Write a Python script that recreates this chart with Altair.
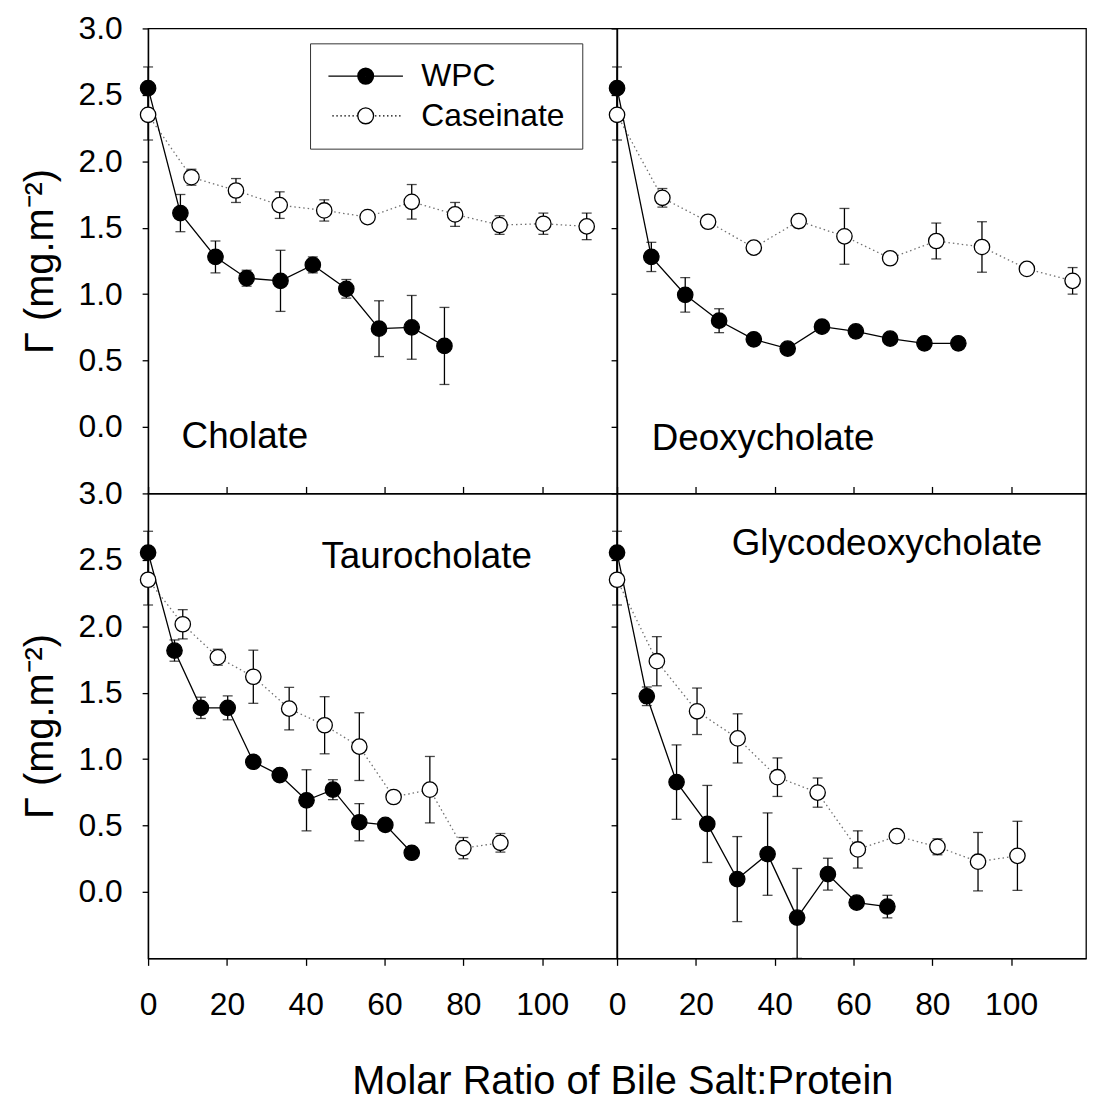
import altair as alt
import pandas as pd

FONT = "Liberation Sans"

series_names = ["WPC", "Caseinate"]
panel_names = ["Cholate", "Deoxycholate", "Taurocholate", "Glycodeoxycholate"]
x_ticks = [0, 20, 40, 60, 80, 100]
y_ticks = [0.0, 0.5, 1.0, 1.5, 2.0, 2.5, 3.0]

# Cholate
chol_wpc_x = [0, 8.2, 17.1, 25.0, 33.6, 41.8, 50.3, 58.6, 66.9, 75.2]
chol_wpc_y = [2.55, 1.61, 1.28, 1.12, 1.10, 1.22, 1.04, 0.74, 0.75, 0.61]
chol_wpc_e = [0.16, 0.14, 0.12, 0.06, 0.23, 0.06, 0.07, 0.21, 0.24, 0.29]
chol_cas_x = [0, 11.0, 22.3, 33.4, 44.7, 55.7, 66.9, 77.9, 89.2, 100.3, 111.3]
chol_cas_y = [2.35, 1.88, 1.78, 1.67, 1.63, 1.58, 1.695, 1.60, 1.52, 1.53, 1.51]
chol_cas_e = [0.19, 0.06, 0.09, 0.10, 0.08, 0.03, 0.13, 0.09, 0.07, 0.08, 0.10]

# Deoxycholate
deox_wpc_x = [0, 8.7, 17.3, 25.9, 34.7, 43.3, 52.0, 60.6, 69.3, 78.0, 86.6]
deox_wpc_y = [2.55, 1.28, 0.995, 0.80, 0.66, 0.59, 0.755, 0.72, 0.665, 0.63, 0.63]
deox_wpc_e = [0.16, 0.11, 0.13, 0.09, 0.04, 0.02, 0.03, 0.04, 0.03, 0.04, 0.02]
deox_cas_x = [0, 11.5, 23.1, 34.7, 46.1, 57.7, 69.3, 81.0, 92.6, 104.0, 115.6]
deox_cas_y = [2.35, 1.725, 1.545, 1.35, 1.55, 1.435, 1.27, 1.40, 1.355, 1.19, 1.10]
deox_cas_e = [0.19, 0.07, 0.03, 0.03, 0.05, 0.21, 0.03, 0.135, 0.19, 0.03, 0.10]

# Taurocholate
taur_wpc_x = [0, 6.7, 13.4, 20.2, 26.7, 33.4, 40.2, 46.9, 53.6, 60.2, 66.9]
taur_wpc_y = [2.555, 1.817, 1.386, 1.386, 0.98, 0.88, 0.69, 0.77, 0.525, 0.505, 0.295]
taur_wpc_e = [0.16, 0.08, 0.08, 0.09, 0.03, 0.03, 0.23, 0.075, 0.14, 0.03, 0.03]
taur_cas_x = [0, 8.8, 17.7, 26.7, 35.8, 44.8, 53.6, 62.3, 71.5, 80.0, 89.4]
taur_cas_y = [2.35, 2.015, 1.767, 1.62, 1.38, 1.255, 1.094, 0.715, 0.77, 0.33, 0.37]
taur_cas_e = [0.19, 0.11, 0.06, 0.20, 0.16, 0.215, 0.255, 0.03, 0.25, 0.08, 0.07]

# Glycodeoxycholate
glyc_wpc_x = [0, 7.55, 15.1, 22.9, 30.5, 38.2, 45.7, 53.5, 60.8, 68.6]
glyc_wpc_y = [2.555, 1.473, 0.827, 0.512, 0.097, 0.285, -0.193, 0.134, -0.08, -0.11]
glyc_wpc_e = [0.16, 0.07, 0.28, 0.29, 0.32, 0.31, 0.37, 0.12, 0.03, 0.085]
glyc_cas_x = [0, 10.1, 20.3, 30.6, 40.7, 50.9, 61.1, 71.0, 81.3, 91.6, 101.6]
glyc_cas_y = [2.35, 1.737, 1.36, 1.156, 0.864, 0.748, 0.32, 0.42, 0.34, 0.228, 0.272]
glyc_cas_e = [0.19, 0.185, 0.175, 0.185, 0.145, 0.11, 0.14, 0.05, 0.06, 0.22, 0.26]

X_DOMAIN = [0, 119]
Y_DOMAIN = [-0.5, 3.0]


def series_df(xs, ys, errs):
    return pd.DataFrame({
        "ratio": xs,
        "gamma": ys,
        "lo": [y - e for y, e in zip(ys, errs)],
        "hi": [y + e for y, e in zip(ys, errs)],
    })


def x_enc(axis=None):
    return alt.X("ratio:Q", scale=alt.Scale(domain=X_DOMAIN, nice=False, zero=False), axis=axis)


def y_enc(field, axis=None):
    return alt.Y(field + ":Q",
                 scale=alt.Scale(domain=Y_DOMAIN, nice=False, zero=False, clamp=True),
                 axis=axis)


y_left_axis = alt.Axis(orient="left", title="Γ (mg.m⁻²)", values=y_ticks, format=".1f",
                       labelFontSize=32, tickSize=6, labelPadding=20, titleFontSize=40,
                       titleFontWeight="normal", titlePadding=18, grid=False, labelFlush=False)
y_right_axis = alt.Axis(orient="left", title=None, labels=False, values=y_ticks, tickSize=6,
                        grid=False)
x_bottom_axis = alt.Axis(orient="bottom", title=None, values=x_ticks, format="d",
                         labelFontSize=32, tickSize=7, labelPadding=24, grid=False,
                         labelFlush=False)
x_top_axis = alt.Axis(orient="top", title=None, labels=False, values=x_ticks, tickSize=7,
                      grid=False)


def ring_path(radii):
    return "".join("M-%.3f,0A%.3f,%.3f,0,1,1,%.3f,0A%.3f,%.3f,0,1,1,-%.3f,0Z"
                   % (r, r, r, r, r, r, r) for r in radii)


def dots_path():
    parts = []
    for side in (-1, 1):
        k = 0
        while 0.62 + k * 0.27 < 2.5:
            parts.append("M%.2f,0h0.1" % (side * (0.62 + k * 0.27)))
            k += 1
    return "".join(parts)


# legend symbols: a line through a circle (filled by concentric rings for WPC)
wpc_symbol = "M-2.5,0L-0.53,0M0.53,0L2.5,0" + ring_path([0.53 - 0.06 * i for i in range(9)])
cas_symbol = dots_path() + ring_path([0.53])


def error_layers(df):
    bar = alt.Chart(df).mark_rule(color="black", strokeWidth=1.3).encode(
        x=x_enc(), y=y_enc("lo"), y2="hi:Q")
    cap_lo = alt.Chart(df).mark_tick(color="black", orient="horizontal", size=10,
                                     thickness=1.3).encode(x=x_enc(), y=y_enc("lo"))
    cap_hi = alt.Chart(df).mark_tick(color="black", orient="horizontal", size=10,
                                     thickness=1.3).encode(x=x_enc(), y=y_enc("hi"))
    return [bar, cap_lo, cap_hi]


def panel(name, wpc, cas, label_at, left, bottom, legend=False):
    ya = y_left_axis if left else y_right_axis
    xa = x_bottom_axis if bottom else None
    xt = x_top_axis if bottom else None

    line_c = alt.Chart(cas).mark_line(color="#707070", strokeWidth=1.3, strokeDash=[1.5, 3]).encode(
        x=x_enc(xt), y=y_enc("gamma", ya))
    line_w = alt.Chart(wpc).mark_line(color="black", strokeWidth=1.3).encode(
        x=x_enc(xa), y=y_enc("gamma"))
    pts_c = alt.Chart(cas).mark_point(shape="circle", filled=True, fill="white", stroke="black",
                                      strokeWidth=1.3, size=240, opacity=1).encode(
        x=x_enc(), y=y_enc("gamma"))
    pts_w = alt.Chart(wpc).mark_point(shape="circle", filled=True, fill="black", stroke="black",
                                      strokeWidth=1.3, size=240, opacity=1).encode(
        x=x_enc(), y=y_enc("gamma"))
    label = alt.Chart(pd.DataFrame({"name": [name], "ratio": [label_at[0]], "gamma": [label_at[1]]})
                      ).mark_text(align="left", baseline="alphabetic", fontSize=37, font=FONT,
                                  color="black").encode(
        x=x_enc(), y=y_enc("gamma"), text="name:N")
    layers = [line_c, line_w] + error_layers(cas) + error_layers(wpc) + [pts_c, pts_w, label]
    if legend:
        lg = alt.Chart(pd.DataFrame({"series": series_names})).mark_point(
            opacity=0, filled=False).encode(
            shape=alt.Shape("series:N",
                            scale=alt.Scale(domain=series_names, range=[wpc_symbol, cas_symbol]),
                            legend=alt.Legend(
                                title=None, orient="none", legendX=163, legendY=15,
                                strokeColor="#333", padding=17, labelFontSize=32, labelFont=FONT,
                                labelColor="black", symbolSize=900, symbolOffset=23,
                                labelOffset=40, rowPadding=8, symbolOpacity=1,
                                symbolStrokeWidth=1.3, symbolStrokeColor="black",
                                symbolFillColor="white")),
        )
        layers.append(lg)
    return (alt.layer(*layers)
            .resolve_axis(x="independent", y="independent")
            .properties(width=472, height=468))


tl = panel(panel_names[0], series_df(chol_wpc_x, chol_wpc_y, chol_wpc_e),
           series_df(chol_cas_x, chol_cas_y, chol_cas_e), (8.5, -0.16), True, False, legend=True)
tr = panel(panel_names[1], series_df(deox_wpc_x, deox_wpc_y, deox_wpc_e),
           series_df(deox_cas_x, deox_cas_y, deox_cas_e), (8.8, -0.17), False, False)
bl = panel(panel_names[2], series_df(taur_wpc_x, taur_wpc_y, taur_wpc_e),
           series_df(taur_cas_x, taur_cas_y, taur_cas_e), (44.0, 2.44), True, True)
br = panel(panel_names[3], series_df(glyc_wpc_x, glyc_wpc_y, glyc_wpc_e),
           series_df(glyc_cas_x, glyc_cas_y, glyc_cas_e), (29.1, 2.54), False, True)

chart = (
    alt.concat(tl, tr, bl, br, columns=2, spacing=0, bounds="flush",
               title=alt.TitleParams("Molar Ratio of Bile Salt:Protein", orient="bottom",
                                     anchor="middle", dx=70, fontSize=40, font=FONT,
                                     fontWeight="normal", offset=42, color="black"))
    .properties(padding={"left": 11, "top": 0, "right": 0, "bottom": 0})
    .configure_view(stroke="black", strokeWidth=1.3)
    .configure_axis(domainColor="black", tickColor="black", labelColor="black",
                    titleColor="black", labelFont=FONT, titleFont=FONT, tickWidth=1.3,
                    domainWidth=1.3)
)

chart.save("out.html", embed_options={"renderer": "svg", "actions": False})
